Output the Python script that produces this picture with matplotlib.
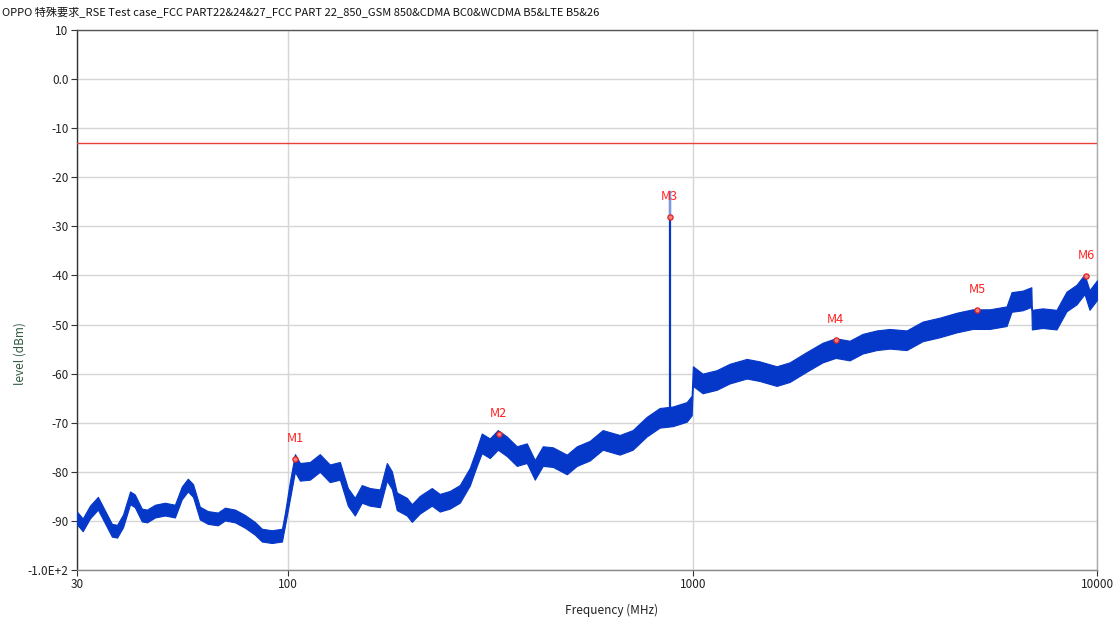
#!/usr/bin/env python3
"""RSE spectrum scan (30 MHz - 10 GHz) with limit line and peak markers."""

import matplotlib
matplotlib.use('Agg')
import matplotlib.pyplot as plt
import numpy as np

TITLE = ('OPPO 特殊要求_RSE Test case_FCC PART22&24&27_FCC PART 22_850_GSM 850'
         '&CDMA BC0&WCDMA B5&LTE B5&26')

# trace envelope: frequency (MHz), centre level and half band (dB)
freq = [30, 31.0, 32.3, 33.8, 35.2, 36.6, 37.7, 39.0, 40.6, 41.7, 43.4, 44.7,
        46.8, 49.5, 52.4, 54.5, 56.4, 58.1, 60.4, 63.2, 66.9, 69.7, 73.8, 78.1,
        82.6, 86.0, 91.0, 96.4, 98.0, 100.9, 103.8, 106.8, 113.0, 119.6, 126.6,
        134.1, 140.3, 146.0, 151.9, 159.0, 168.4, 175.2, 180.3, 185.4, 196.3,
        202.0, 211.4, 226.3, 236.8, 250.7, 265.4, 281.0, 292.4, 300.8, 314.9,
        329.6, 346.9, 367.3, 388.7, 406.9, 425.8, 450.8, 488.3, 516.8, 556.3,
        599.0, 659.9, 710.5, 769.6, 828.6, 892.3, 966.2, 994.3, 1001, 1058,
        1146, 1234, 1360, 1464, 1613, 1737, 1913, 2096, 2257, 2444, 2632, 2851,
        3069, 3381, 3703, 4079, 4494, 4922, 5423, 5974, 6147, 6542, 6880, 6900,
        7332, 7940, 8405, 8899, 9314, 9581, 10000]
level = [-89.4, -90.8, -88.2, -86.4, -89.2, -91.9, -92.1, -90.0, -85.3, -85.9,
         -88.8, -89.0, -88.0, -87.6, -88.0, -84.3, -82.7, -83.8, -88.4, -89.3,
         -89.6, -88.6, -89.0, -90.1, -91.5, -92.9, -93.2, -92.9, -89.8, -83.7,
         -78.2, -80.0, -79.8, -78.2, -80.3, -79.8, -85.1, -87.1, -84.5, -85.1,
         -85.4, -80.0, -81.7, -86.0, -87.1, -88.4, -86.7, -85.1, -86.3, -85.7,
         -84.5, -81.0, -77.0, -74.2, -75.2, -73.5, -74.8, -76.8, -76.2, -79.6,
         -76.8, -77.0, -78.5, -76.8, -75.7, -73.5, -74.5, -73.5, -70.8, -69.0,
         -68.7, -67.8, -66.5, -60.5, -62.0, -61.3, -60.0, -59.0, -59.5, -60.5,
         -59.7, -57.6, -55.7, -54.8, -55.3, -53.9, -53.2, -52.9, -53.2, -51.4,
         -50.6, -49.6, -48.9, -48.9, -48.3, -45.4, -45.1, -44.4, -49.0, -48.7,
         -49.0, -45.3, -43.9, -41.8, -45.0, -43.0]
half_band = [1.3] * 29 + [1.8] * 24 + [2.0] * 20 + [2.0] * 33

# isolated spikes above the noise floor
spike_freq = [877.0]
spike_top = [-28.1]

# limit line
limit = -13.0

# peak markers
mk_names = ['M1', 'M2', 'M3', 'M4', 'M5', 'M6']
mk_freq = [104.0, 331.0, 877.0, 2256.0, 5062.0, 9412.0]
mk_level = [-77.4, -72.3, -28.1, -53.1, -47.0, -40.1]

y_ticks = [10, 0, -10, -20, -30, -40, -50, -60, -70, -80, -90, -100]
y_ticklabels = ['10', '0.0', '-10', '-20', '-30', '-40', '-50', '-60', '-70',
                '-80', '-90', '-1.0E+2']
x_ticks = [30, 100, 1000, 10000]
x_ticklabels = ['30', '100', '1000', '10000']


def main():
    plt.rcParams['font.family'] = ['Noto Sans CJK SC', 'DejaVu Sans']
    fig = plt.figure(figsize=(11.17, 6.25), dpi=100)
    ax = fig.add_axes([0.0689, 0.088, 0.9132, 0.864])

    f = np.array(freq)
    c = np.array(level)
    hb = np.array(half_band)
    trace_blue = '#0538c8'
    ax.fill_between(f, c - hb, c + hb, color=trace_blue, lw=0.8,
                    edgecolor=trace_blue, zorder=3)
    for sf, st in zip(spike_freq, spike_top):
        base = np.interp(sf, f, c)
        ax.plot([sf, sf], [base, st + 5], color=trace_blue, lw=1.6, zorder=3)
        ax.plot([sf, sf], [st + 5, st], color='#7d9ae0', lw=1.6, zorder=3)

    ax.axhline(limit, color='#e8403a', lw=1.0, zorder=4)

    ax.scatter(mk_freq, mk_level, s=14, facecolor='#f38080',
               edgecolor='#e02020', lw=0.9, zorder=5)
    for name, mf, ml in zip(mk_names, mk_freq, mk_level):
        ax.annotate(name, (mf, ml), xytext=(0, 10), textcoords='offset points',
                    ha='center', va='bottom', color='#ff2020', fontsize=9,
                    zorder=6)

    ax.set_xscale('log')
    ax.set_xlim(30, 10000)
    ax.set_ylim(-100, 10)
    ax.set_xticks(x_ticks)
    ax.set_xticklabels(x_ticklabels)
    ax.xaxis.set_minor_locator(matplotlib.ticker.NullLocator())
    ax.set_yticks(y_ticks)
    ax.set_yticklabels(y_ticklabels)
    ax.tick_params(labelsize=8.5, length=4, width=0.8, color='#333333',
                   labelcolor='#222222', pad=2)

    ax.grid(True, color='#d6d6d6', lw=1.0, zorder=0)
    ax.set_axisbelow(True)
    ax.spines['left'].set_color('#333333')
    ax.spines['top'].set_color('#555555')
    ax.spines['bottom'].set_color('#888888')
    ax.spines['right'].set_color('#aaaaaa')
    for sp in ax.spines.values():
        sp.set_linewidth(1.0)

    ax.set_xlabel('Frequency (MHz)', fontsize=8.5, color='#222222')
    ax.xaxis.set_label_coords((612 - 77) / 1020, -0.062)
    ax.set_ylabel('level (dBm)', fontsize=8.5, color='#2e5a40')
    ax.yaxis.set_label_coords(-0.049, 0.40)

    fig.text(0.002, 0.981, TITLE, fontsize=8, ha='left', va='center',
             color='#111111')

    fig.savefig('out.png', dpi=100)
    plt.close(fig)


if __name__ == '__main__':
    main()
